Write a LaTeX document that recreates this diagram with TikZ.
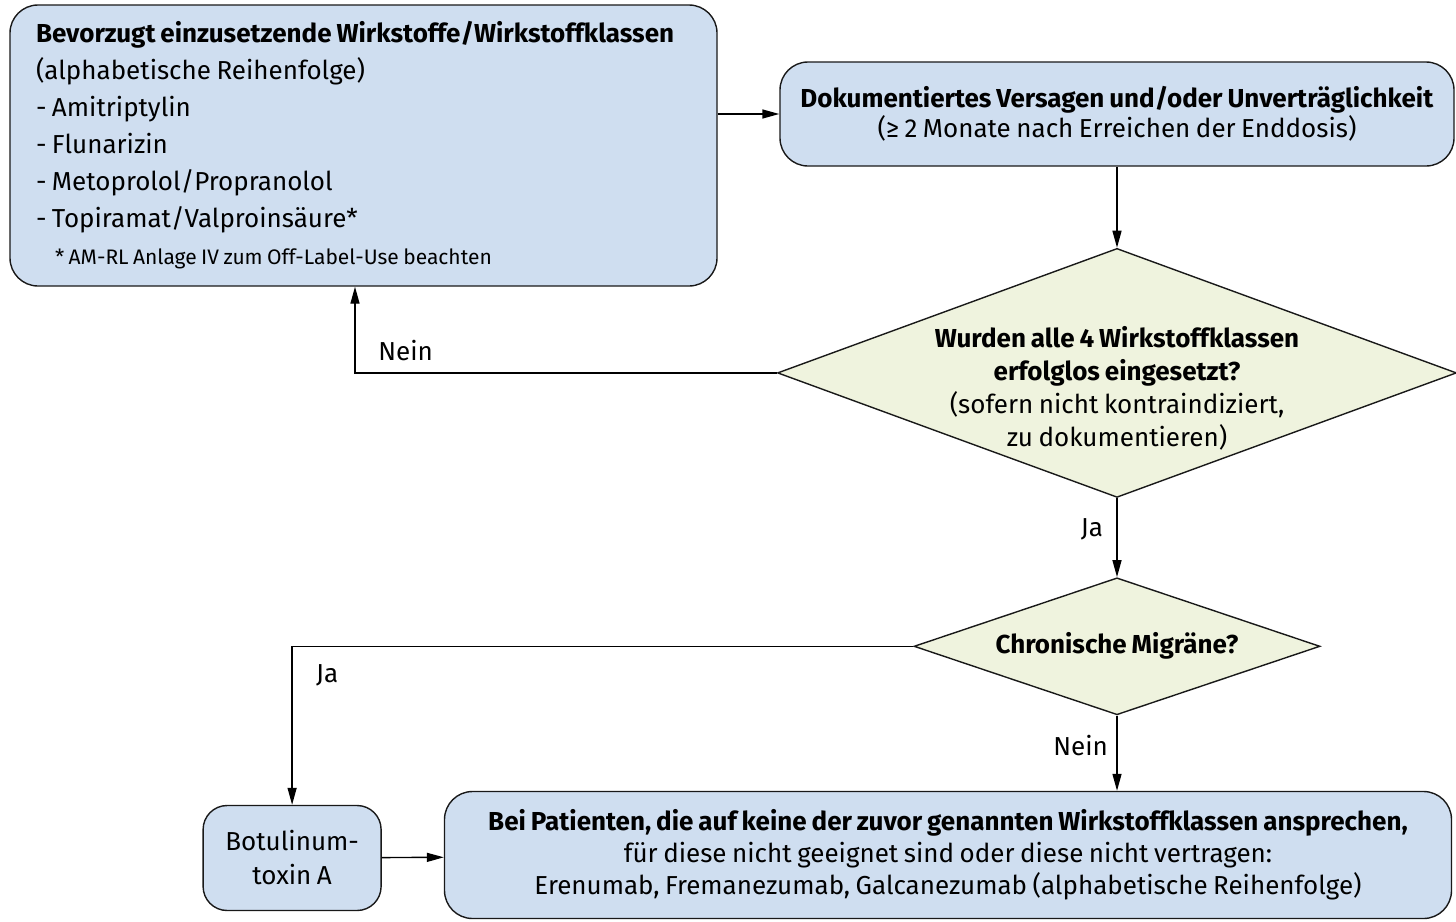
\documentclass[tikz,border=0pt]{standalone}
\usepackage{fontspec}
\setmainfont{Fira Sans}[WordSpace=0.8]
\usetikzlibrary{shapes.geometric,positioning,arrows.meta}
\definecolor{boxblue}{RGB}{207,222,240}
\definecolor{decyellow}{RGB}{239,243,222}

\begin{document}
\begin{tikzpicture}[x=1pt,y=-1pt,>={Triangle[length=17pt,width=9pt]},
  font=\fontsize{26}{31}\selectfont,
  block/.style={draw=black!90, line width=1.4pt, fill=boxblue, rounded corners=28pt, inner sep=0pt},
  decision/.style={diamond, draw=black!90, line width=1.4pt, fill=decyellow, inner sep=0pt},
  flow/.style={->, line width=1.4pt}]
\useasboundingbox (0,0) rectangle (1456,921);

	\node[block, minimum width=707pt, minimum height=281pt, text width=655pt, align=left,
	      font=\fontsize{26}{37}\selectfont] (pref) at (363.5,145.5)
	      {\spaceskip=0pt\xspaceskip=0pt
	       \textbf{Bevorzugt einzusetzende Wirkstoffe/Wirkstoffklassen}\\
	       (alphabetische Reihenfolge)\\
	       - Amitriptylin\\
	       - Flunarizin\\
	       - Metoprolol/Propranolol\\
	       - Topiramat/Valproinsäure*\\
	       \hspace*{19pt}{\fontsize{21}{37}\selectfont * AM-RL Anlage IV zum Off-Label-Use beachten}};
	\node[block, minimum width=674pt, minimum height=104pt, align=center,
	      font=\fontsize{26}{30}\selectfont] (fail) at (1117,114)
	      {\textbf{Dokumentiertes Versagen und/oder Unverträglichkeit}\\
	       (≥ 2 Monate nach Erreichen der Enddosis)};
	\node[decision, minimum width=679pt, minimum height=249pt] (allfour) [below=81pt of fail] {};
	\node[align=center, font=\fontsize{26}{33}\selectfont] (allfourtxt) at ([yshift=-15pt]allfour.center)
	      {\textbf{Wurden alle 4 Wirkstoffklassen}\\
	       \textbf{erfolglos eingesetzt?}\\
	       (sofern nicht kontraindiziert,\\
	       zu dokumentieren)};
	\node[decision, minimum width=406pt, minimum height=137pt] (chronic) [below=79pt of allfour] {};
	\node (chronictxt) at (chronic.center) {\textbf{Chronische Migräne?}};
	\node[block, minimum width=1007pt, minimum height=127pt, align=center,
	      font=\fontsize{26}{32}\selectfont] (final) at (948,855)
	      {\textbf{Bei Patienten, die auf keine der zuvor genannten Wirkstoffklassen ansprechen,}\\
	       für diese nicht geeignet sind oder diese nicht vertragen:\\
	       Erenumab, Fremanezumab, Galcanezumab (alphabetische Reihenfolge)};
	\node[block, rounded corners=24pt, minimum width=178pt, minimum height=105pt, align=center,
	      font=\fontsize{26}{34}\selectfont] (botox) [left=62pt of final, yshift=-3pt] {Botulinum-\\toxin A};

	\draw[flow] (pref.east |- fail.west) -- (fail.west);
	\draw[flow] (fail) -- (allfour);
	\draw[flow] (allfour.west) -| node[pos=0.44, above=8pt] {Nein} ([xshift=-8.5pt]pref.south);
	\draw[flow] (allfour) -- node[pos=0.4, left=10pt] {Ja} (chronic);
	\draw[flow] (chronic.west) -| node[pos=0.59, right=20pt] {Ja} (botox.north);
	\draw[flow] (chronic) -- node[pos=0.4, left=5pt] {Nein} (chronic.south |- final.north);
	\draw[flow] (botox) -- (final);
\end{tikzpicture}
\end{document}
